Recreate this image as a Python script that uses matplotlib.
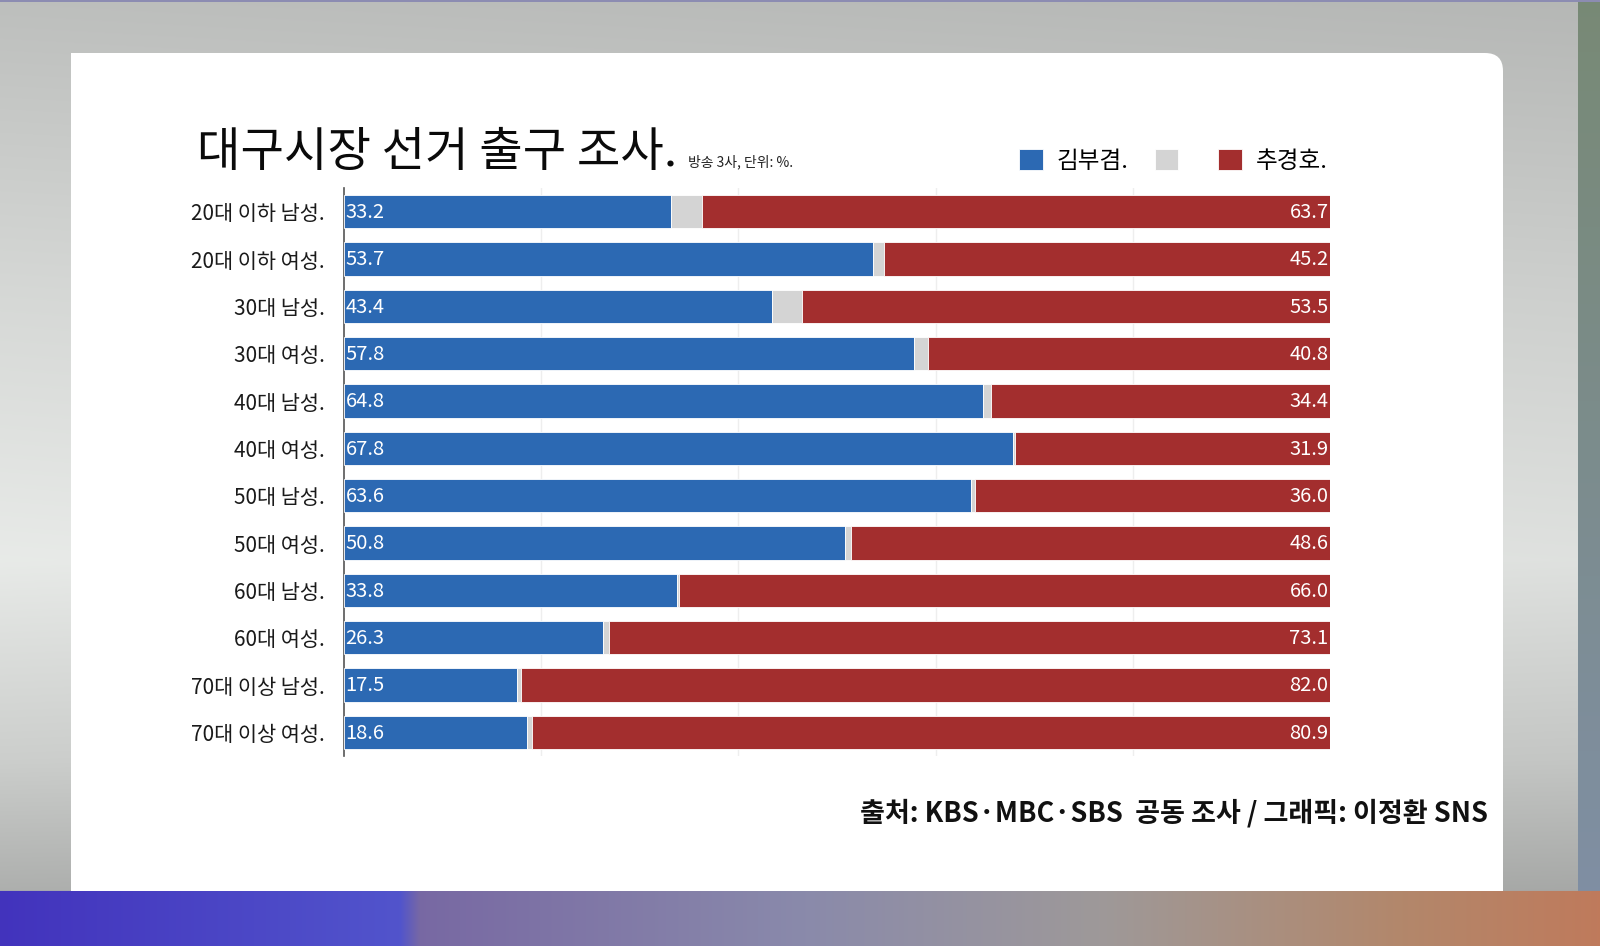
import numpy as np
import matplotlib
matplotlib.use("Agg")
import matplotlib.pyplot as plt
from matplotlib.patches import FancyBboxPatch, Rectangle

plt.rcParams['font.family'] = ['Noto Sans CJK KR', 'DejaVu Sans']

# ---------------- data ----------------
categories = ['20대 이하 남성.', '20대 이하 여성.', '30대 남성.', '30대 여성.',
              '40대 남성.', '40대 여성.', '50대 남성.', '50대 여성.',
              '60대 남성.', '60대 여성.', '70대 이상 남성.', '70대 이상 여성.']
kim = [33.2, 53.7, 43.4, 57.8, 64.8, 67.8, 63.6, 50.8, 33.8, 26.3, 17.5, 18.6]
other = [3.1, 1.1, 3.1, 1.4, 0.8, 0.3, 0.4, 0.6, 0.2, 0.6, 0.5, 0.5]
choo = [63.7, 45.2, 53.5, 40.8, 34.4, 31.9, 36.0, 48.6, 66.0, 73.1, 82.0, 80.9]
series_names = ['김부겸.', '', '추경호.']
title = '대구시장 선거 출구 조사.'
subtitle = '방송 3사, 단위: %.'
source = '출처: KBS·MBC·SBS  공동 조사 / 그래픽: 이정환 SNS'

BLUE = '#2c69b3'
GRAY = '#d4d4d4'
RED = '#a32e2e'

W, H = 1600, 946
fig = plt.figure(figsize=(W / 100, H / 100), dpi=100)

# ---------------- background ----------------
bg = fig.add_axes([0, 0, 1, 1])
bg.set_xlim(0, W)
bg.set_ylim(H, 0)
bg.axis('off')

py = np.arange(H)
prof = np.interp(py, [0, 60, 300, 560, 760, 890], [0.74, 0.76, 0.84, 0.91, 0.80, 0.68])
xs = np.linspace(0, 1, W)
xmod = 1.0 - 0.04 * xs
img = prof[:, None, None] * xmod[None, :, None] * np.array([1.0, 1.01, 1.0])[None, None, :]
img = np.clip(img, 0, 1)
# right strip
sy = np.interp(py, [0, 890], [0, 1])[:, None]
strip_top = np.array([0.47, 0.54, 0.46])
strip_bot = np.array([0.50, 0.56, 0.64])
img[:, 1578:, :] = (strip_top * (1 - sy) + strip_bot * sy)[:, None, :]
# top thin line
img[:3, :, :] = np.array([0.55, 0.55, 0.70])
# bottom band gradient
stops_x = [0, 400, 420, 800, 1100, 1400, 1600]
stops_c = [(0.26, 0.20, 0.74), (0.32, 0.33, 0.80), (0.47, 0.41, 0.64),
           (0.54, 0.54, 0.67), (0.62, 0.60, 0.60), (0.70, 0.53, 0.42), (0.75, 0.48, 0.36)]
band = np.zeros((W, 3))
px = np.arange(W)
for c in range(3):
    band[:, c] = np.interp(px, stops_x, [s[c] for s in stops_c])
img[891:, :, :] = band[None, :, :]
bg.imshow(img, extent=(0, W, H, 0), aspect='auto', zorder=0, interpolation='bilinear')

card = FancyBboxPatch((71, 53), 1432, 860, boxstyle='round,pad=0,rounding_size=18',
                      facecolor='white', edgecolor='none', zorder=1)
bg.add_patch(card)
bg.add_patch(Rectangle((71, 53), 700, 860, facecolor='white', edgecolor='none', zorder=1))
bg.imshow(np.broadcast_to(band[None, :, :], (55, W, 3)), extent=(0, W, H, 891),
          aspect='auto', zorder=2)

# ---------------- chart ----------------
x0, x1 = 344, 1330
y_top, y_bot = 188, 756
ax = fig.add_axes([x0 / W, 1 - y_bot / H, (x1 - x0) / W, (y_bot - y_top) / H])
ax.set_xlim(0, 100)
ax.set_ylim(len(categories) - 0.5, -0.5)
ypos = np.arange(len(categories))
bh = 0.7
kim_a = np.array(kim)
other_a = np.array(other)
choo_a = np.array(choo)
b1 = ax.barh(ypos, kim_a, height=bh, color=BLUE, edgecolor='white', linewidth=0.6,
             label=series_names[0], zorder=3)
b2 = ax.barh(ypos, other_a, left=kim_a, height=bh, color=GRAY, edgecolor='white',
             linewidth=0.6, label=series_names[1], zorder=3)
b3 = ax.barh(ypos, choo_a, left=kim_a + other_a, height=bh, color=RED, edgecolor='white',
             linewidth=0.6, label=series_names[2], zorder=3)

for i in range(len(categories)):
    ax.annotate(f'{kim[i]:.1f}', (0, ypos[i]), xytext=(1.0, -0.5), textcoords='offset points',
                ha='left', va='center', color='white', fontsize=14.5, zorder=4)
    ax.annotate(f'{choo[i]:.1f}', (kim[i] + other[i] + choo[i], ypos[i]), xytext=(-1.0, -0.5),
                textcoords='offset points', ha='right', va='center', color='white',
                fontsize=14.5, zorder=4)

ax.set_yticks(ypos)
ax.set_yticklabels(categories, fontsize=15, fontweight='medium', color='#1a1a1a')
ax.tick_params(axis='y', length=0, pad=14)
ax.set_xticks([20, 40, 60, 80])
ax.tick_params(axis='x', length=0, labelbottom=False)
ax.grid(axis='x', color='#eeeeee', linewidth=1, zorder=0)
for s in ['top', 'right', 'bottom']:
    ax.spines[s].set_visible(False)
ax.spines['left'].set_color('#555555')
ax.spines['left'].set_linewidth(1.2)
ax.set_facecolor('none')

# ---------------- texts ----------------
fig.text(197 / W, 1 - 153 / H, title, fontsize=34, fontweight='medium', color='#0a0a0a',
         ha='left', va='center')
fig.text(688 / W, 1 - 162 / H, subtitle, fontsize=10, fontweight='medium', color='#222222',
         ha='left', va='center')

fig.legend(handles=[b1, b2, b3], labels=series_names, loc='center right',
           bbox_to_anchor=(1328 / W, 1 - 161 / H), ncol=3, frameon=False, fontsize=17,
           handlelength=1.0, handleheight=1.0, handletextpad=0.6, columnspacing=1.1,
           borderpad=0, borderaxespad=0)

fig.text(1488 / W, 1 - 813 / H, source, fontsize=19.5, fontweight='bold', color='#111111',
         ha='right', va='center')

fig.savefig('out.png', dpi=100)
